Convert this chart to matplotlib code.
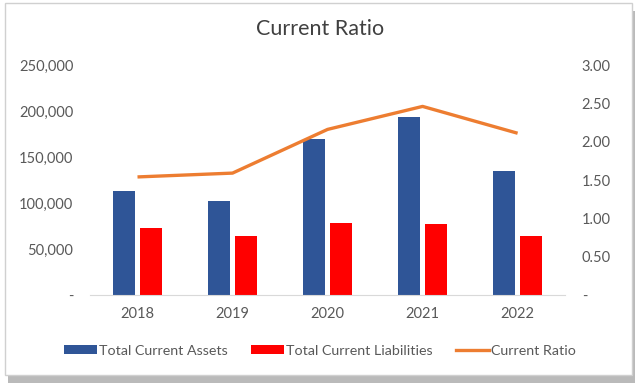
import numpy as np
import matplotlib.pyplot as plt
from matplotlib.patches import Rectangle, Patch
from matplotlib.lines import Line2D
from matplotlib.ticker import FuncFormatter

years = ['2018', '2019', '2020', '2021', '2022']
current_assets = [113000, 102200, 169600, 193500, 134400]
current_liabilities = [72800, 63800, 78300, 77500, 63800]
current_ratio = [1.54, 1.59, 2.16, 2.46, 2.11]

plt.rcParams['font.family'] = ['Lato', 'DejaVu Sans']

fig = plt.figure(figsize=(6.4, 3.9), dpi=100)
fig.patch.set_facecolor('white')

# card frame with a soft shadow
shadow = Rectangle((0.012, 0.018), 0.98, 0.955, transform=fig.transFigure,
                   facecolor='#8c8c8c', edgecolor='none', alpha=0.6, zorder=-3)
card = Rectangle((0.008, 0.038), 0.98, 0.955, transform=fig.transFigure,
                 facecolor='white', edgecolor='#d0d0d0', linewidth=1, zorder=-2)
fig.patches.extend([shadow, card])

ax = fig.add_axes([0.1406, 0.2436, 0.7424, 0.5897])
ax.set_facecolor('none')
x = np.arange(len(years))
w = 0.23
ax.bar(x - 0.03 - w / 2, current_assets, w, color='#2f5597', label='Total Current Assets')
ax.bar(x + 0.03 + w / 2, current_liabilities, w, color='#ff0000', label='Total Current Liabilities')
ax.set_xlim(-0.5, 4.5)
ax.set_ylim(0, 250000)
ax.set_yticks(np.arange(0, 250001, 50000))
ax.yaxis.set_major_formatter(FuncFormatter(lambda v, p: '-' if v == 0 else f'{int(v):,}'))
ax.set_xticks(x)
ax.set_xticklabels(years)

ax2 = ax.twinx()
ax2.plot(x, current_ratio, color='#ed7d31', linewidth=2.4, solid_capstyle='butt')
ax2.set_ylim(0, 3)
ax2.set_yticks(np.arange(0, 3.01, 0.5))
ax2.yaxis.set_major_formatter(FuncFormatter(lambda v, p: '-' if v == 0 else f'{v:.2f}'))

for a in (ax, ax2):
    for s in a.spines.values():
        s.set_visible(False)
    a.tick_params(length=0, labelsize=10.5, colors='#595959')
ax.spines['bottom'].set_visible(True)
ax.spines['bottom'].set_color('#d9d9d9')
ax.tick_params(axis='y', pad=12)
ax.tick_params(axis='x', pad=9)
ax2.tick_params(axis='y', pad=12)

fig.text(0.5, 0.925, 'Current Ratio', ha='center', va='center', fontsize=15.5, color='#404040')

handles = [Patch(facecolor='#2f5597'), Patch(facecolor='#ff0000'),
           Line2D([0], [0], color='#ed7d31', linewidth=2.4)]
labels = ['Total Current Assets', 'Total Current Liabilities', 'Current Ratio']
fig.legend(handles, labels, loc='center', bbox_to_anchor=(0.5, 0.1), ncol=3, frameon=False,
           fontsize=10.3, labelcolor='#595959', handlelength=2.3, handleheight=0.6,
           handletextpad=0.15, columnspacing=1.6)

fig.savefig('out.png', dpi=100)
